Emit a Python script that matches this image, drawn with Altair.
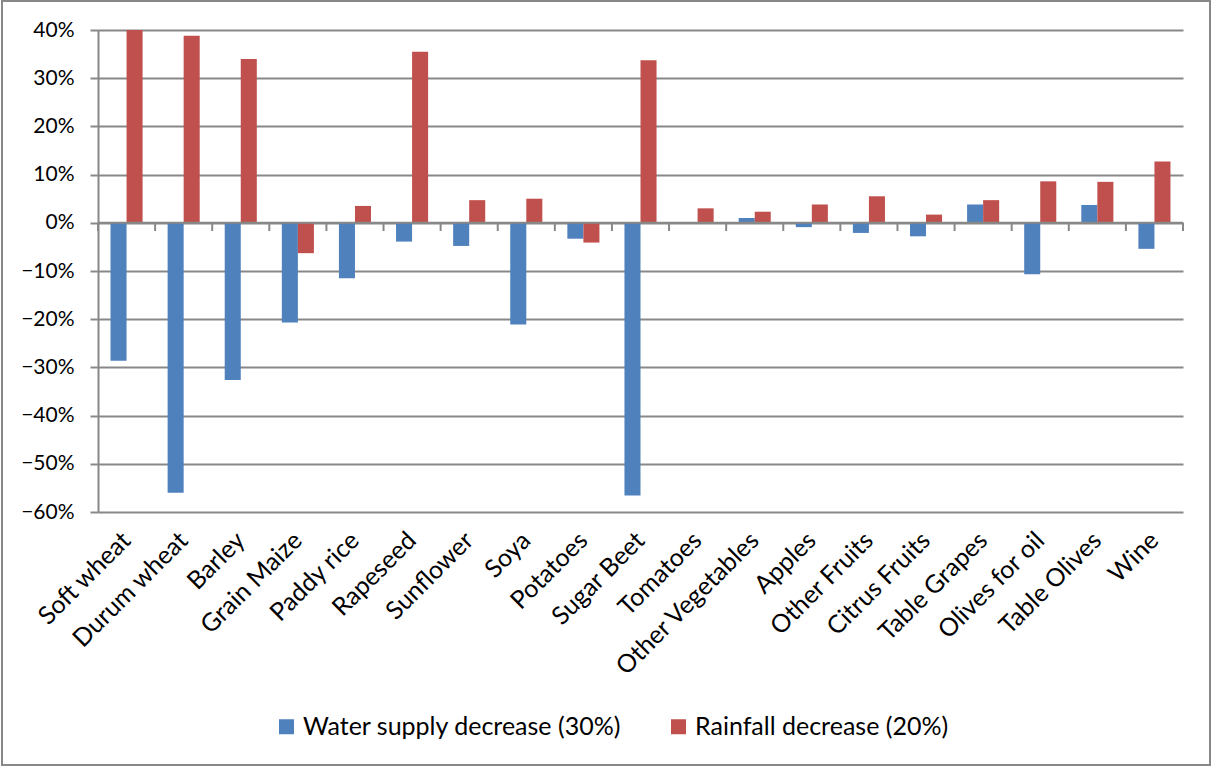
import altair as alt
import pandas as pd

# Crops and the simulated yield change under each scenario (fraction)
crops = ["Soft wheat", "Durum wheat", "Barley", "Grain Maize", "Paddy rice", "Rapeseed",
         "Sunflower", "Soya", "Potatoes", "Sugar Beet", "Tomatoes", "Other Vegetables",
         "Apples", "Other Fruits", "Citrus Fruits", "Table Grapes", "Olives for oil",
         "Table Olives", "Wine"]
water_supply = [-0.286, -0.560, -0.326, -0.207, -0.115, -0.039, -0.048, -0.211, -0.033, -0.566,
                0.0, 0.010, -0.009, -0.021, -0.028, 0.038, -0.107, 0.037, -0.054]
rainfall = [0.400, 0.388, 0.340, -0.063, 0.035, 0.355, 0.047, 0.050, -0.041, 0.337,
            0.030, 0.023, 0.038, 0.055, 0.017, 0.047, 0.086, 0.085, 0.127]
series = ["Water supply decrease (30%)", "Rainfall decrease (20%)"]
colors = ["#4F81BD", "#C0504D"]
y_ticks = [0.4, 0.3, 0.2, 0.1, 0.0, -0.1, -0.2, -0.3, -0.4, -0.5, -0.6]

rows = []
for i, c in enumerate(crops):
    rows.append({"crop": c, "series": series[0], "value": water_supply[i]})
    rows.append({"crop": c, "series": series[1], "value": rainfall[i]})
df = pd.DataFrame(rows)
cats = pd.DataFrame({"crop": crops})

FONT = "Lato"
GRID = "#888888"
W, H = 1085, 482

x_scale = alt.Scale(domain=crops, paddingInner=0, paddingOuter=0)
y_scale = alt.Scale(domain=[-0.6, 0.4], nice=False)

bars = alt.Chart(df).mark_bar(strokeWidth=0).encode(
    x=alt.X("crop:N", scale=x_scale, sort=crops, title=None,
            axis=alt.Axis(labelAngle=-45, labelAlign="right", labelBaseline="middle",
                          labelPadding=24, ticks=False, domain=False, grid=False,
                          labelFontSize=25, labelColor="#000", labelFont=FONT,
                          labelLimit=0)),
    xOffset=alt.XOffset("series:N", sort=series,
                        scale=alt.Scale(domain=series, paddingInner=0, paddingOuter=0.78)),
    y=alt.Y("value:Q", scale=y_scale, title=None,
            axis=alt.Axis(values=y_ticks, format=".0%", labelFontSize=21, labelColor="#000",
                          labelFont=FONT, labelPadding=16, tickSize=8, tickColor=GRID,
                          tickWidth=2, domainColor=GRID, domainWidth=2, gridColor=GRID,
                          gridWidth=2)),
    color=alt.Color("series:N", sort=series, scale=alt.Scale(domain=series, range=colors),
                    legend=alt.Legend(title=None, orient="none", legendX=176, legendY=684,
                                      direction="horizontal", symbolType="square",
                                      symbolSize=225, symbolStrokeWidth=0, padding=0,
                                      labelFontSize=25, labelFont=FONT, labelColor="#000",
                                      labelLimit=0, columnPadding=44, labelOffset=4)),
)

# Zero line across the categories
zero = alt.Chart(cats).mark_rule(color=GRID, strokeWidth=2).encode(
    x=alt.X("crop:N", scale=x_scale, sort=crops, bandPosition=0),
    x2=alt.X2("crop:N", bandPosition=1),
    y=alt.datum(0),
)

# Category boundary tick marks hanging below the zero line
ticks = alt.Chart(cats).mark_rule(color=GRID, strokeWidth=2).encode(
    x=alt.X("crop:N", scale=x_scale, sort=crops, bandPosition=0),
    y=alt.datum(0),
    y2=alt.datum(-0.017),
)
end_tick = alt.Chart(cats).transform_filter(alt.datum.crop == crops[-1]).mark_rule(
    color=GRID, strokeWidth=2).encode(
    x=alt.X("crop:N", scale=x_scale, sort=crops, bandPosition=1),
    y=alt.datum(0),
    y2=alt.datum(-0.017),
)

# Outer frame of the chart
frame = alt.Chart(cats).mark_rect(fill=None, stroke="#888888", strokeWidth=2).encode(
    x=alt.value(-96), x2=alt.value(W + 27), y=alt.value(-29), y2=alt.value(H + 253),
)

chart = alt.layer(frame, bars, zero, ticks, end_tick).properties(
    width=W, height=H,
    autosize=alt.AutoSizeParams(type="none"),
    padding={"left": 98, "top": 30, "right": 29, "bottom": 254},
    background="white",
).configure_view(stroke=None).configure_axis(labelFont=FONT)

chart.save("out.html", embed_options={"renderer": "svg", "actions": False})
